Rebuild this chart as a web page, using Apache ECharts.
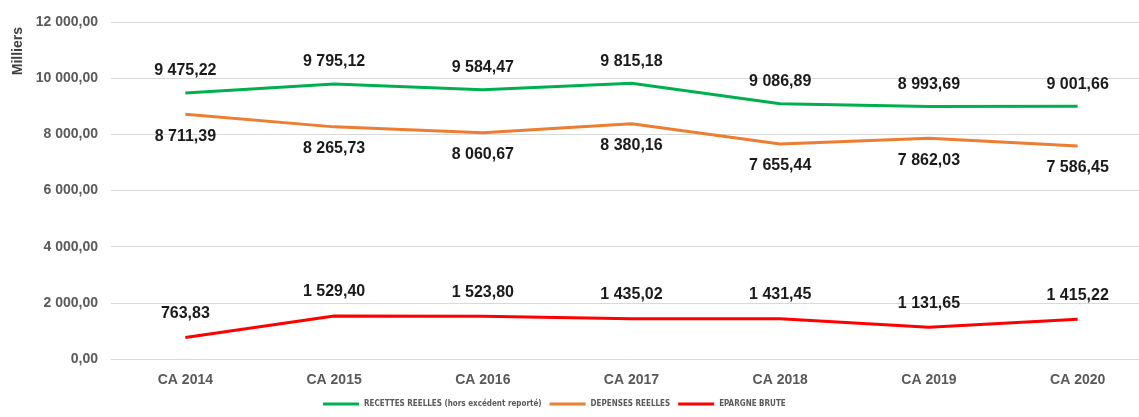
<!DOCTYPE html>
<html>
<head>
<meta charset="utf-8">
<script src="https://cdn.jsdelivr.net/npm/echarts@6/dist/echarts.min.js"></script>
<style>html,body{margin:0;padding:0;background:#fff;overflow:hidden;}#c{width:1152px;height:417px;}</style>
</head>
<body>
<div id="c"></div>
<script>
const categories = ['CA 2014','CA 2015','CA 2016','CA 2017','CA 2018','CA 2019','CA 2020'];
const recettes = [9475.22, 9795.12, 9584.47, 9815.18, 9086.89, 8993.69, 9001.66];
const depenses = [8711.39, 8265.73, 8060.67, 8380.16, 7655.44, 7862.03, 7586.45];
const epargne = [763.83, 1529.40, 1523.80, 1435.02, 1431.45, 1131.65, 1415.22];
const seriesNames = ['RECETTES REELLES (hors excédent reporté)', 'DEPENSES REELLES', 'EPARGNE BRUTE'];
const yTicks = [0, 2000, 4000, 6000, 8000, 10000, 12000];

function fmt(v){
  const s = Number(v).toFixed(2).split('.');
  return s[0].replace(/\B(?=(\d{3})+(?!\d))/g, ' ') + ',' + s[1];
}
const chart = echarts.init(document.getElementById('c'));
const FONT = '"Liberation Sans", Arial, sans-serif';
function mk(name, data, color, pos, dist){
  return {
    name, type:'line', data, symbol:'circle', symbolSize:0, showSymbol:true, smooth:false,
    lineStyle:{color, width:3}, itemStyle:{color},
    label:{show:true, position:pos, distance:dist, formatter:p=>fmt(p.value),
      fontFamily:FONT, fontWeight:'bold', fontSize:16, color:'#1a1a1a'}
  };
}
chart.setOption({
  animation:false,
  textStyle:{fontFamily:FONT},
  grid:{left:111, top:22, right:0, height:337, containLabel:false},
  xAxis:{type:'category', data:categories, boundaryGap:true,
    axisLine:{show:true, lineStyle:{color:'#D9D9D9', width:1}},
    axisTick:{show:false},
    axisLabel:{fontFamily:FONT, fontWeight:'bold', fontSize:14, color:'#595959', margin:14}},
  yAxis:{type:'value', min:yTicks[0], max:yTicks[yTicks.length-1], interval:2000,
    axisLine:{show:false}, axisTick:{show:false},
    splitLine:{lineStyle:{color:'#D9D9D9', width:1}},
    axisLabel:{formatter:v=>fmt(v), fontFamily:FONT, fontWeight:'bold', fontSize:14, color:'#595959', margin:13}},
  legend:{bottom:4, left:318, itemWidth:36, itemHeight:3, itemGap:8,
    icon:'rect',
    textStyle:{fontFamily:'"Liberation Sans Narrow", "DejaVu Sans Condensed", sans-serif', fontWeight:'bold', fontSize:8, color:'#595959'},
    data:seriesNames},
  graphic:[{type:'text', left:11, top:27, rotation:Math.PI/2,
    style:{text:'Milliers', font:'bold 14px "Liberation Sans", Arial, sans-serif', fill:'#404040'}}],
  series:[
    mk(seriesNames[0], recettes, '#00B050', 'top', 14),
    mk(seriesNames[1], depenses, '#ED7D31', 'bottom', 14),
    mk(seriesNames[2], epargne, '#FF0000', 'top', 16)
  ]
});
</script>
</body>
</html>
